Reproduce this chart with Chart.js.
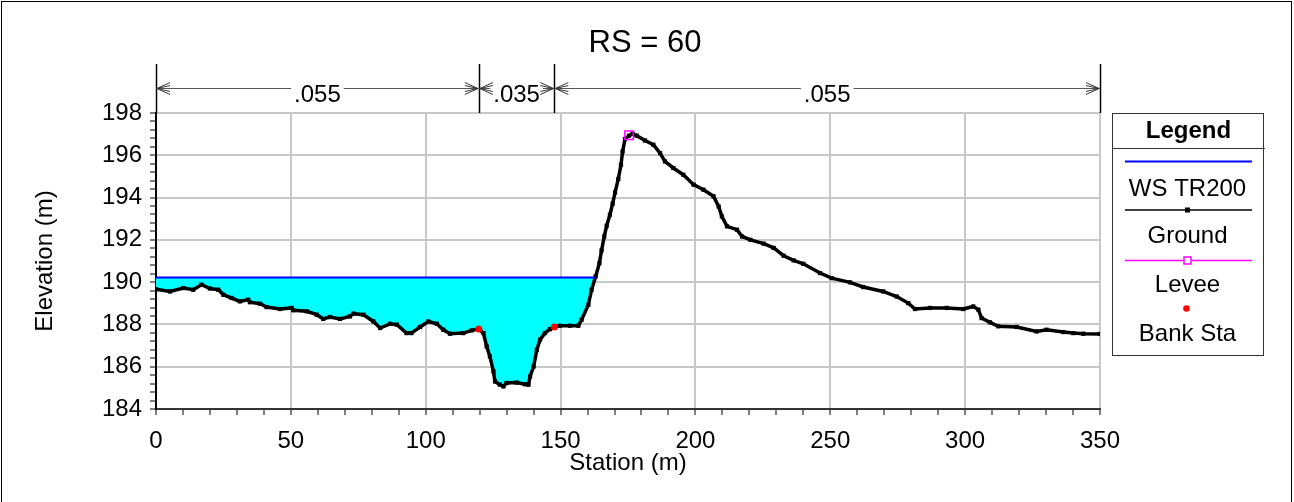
<!DOCTYPE html>
<html>
<head>
<meta charset="utf-8">
<title>RS = 60</title>
<style>
  html, body { margin: 0; padding: 0; background: #fff; }
  #wrap { position: relative; width: 1294px; height: 502px; }
</style>
<script src="https://cdn.jsdelivr.net/npm/chart.js@4.4.1/dist/chart.umd.min.js"></script>
</head>
<body>
<div id="wrap"><canvas id="xsChart" width="1294" height="502"></canvas></div>
<script>
// cross section RS = 60 (station / elevation in m)
const plotTitle = "RS = 60";

const groundStation = [
  0, 5.2, 10.1, 13.8, 16.9, 20, 23.1, 25, 28, 31.1, 34.2, 34.8, 38.6, 41, 46, 50.3, 50.9,
  55.9, 59.6, 62, 64.5, 68.2, 71.9, 73.2, 76.9, 80.6, 83.1, 86.8, 89.3, 92.9, 94.7, 97.9,
  101, 104.1, 106.5, 109, 113.9, 117.1, 119.7, 121.4, 122.6, 123.8, 125.1, 125.7, 127.5,
  128.8, 130, 133.7, 136.8, 138.1, 138.7, 140, 141.2, 142.4, 144.2, 146.1, 147.7, 149.8,
  153.5, 156.6, 157.8, 160.3, 161.5, 163, 164.4, 165.2, 166.2, 167.1, 168.3, 169.3, 170.2,
  171.4, 172.4, 173, 173.9, 175.4, 176.7, 178.2, 181.3, 184.4, 186.9, 188.7, 191.8, 195.5,
  199.3, 203, 206.7, 208.6, 209.8, 211.7, 215.4, 217.3, 220.4, 225.3, 229, 232.7, 236.4,
  240, 246.2, 250.5, 257.3, 262.2, 269.6, 274.6, 278.9, 281.4, 287, 293.2, 299.3, 303,
  304.9, 306.1, 309.2, 312.3, 319.1, 326.5, 330.2, 336.4, 340.1, 343.8, 350
];
const groundElev = [
  189.67, 189.56, 189.72, 189.64, 189.88, 189.7, 189.64, 189.4, 189.25, 189.09, 189.17,
  189.05, 188.98, 188.82, 188.73, 188.78, 188.67, 188.62, 188.46, 188.26, 188.35, 188.26,
  188.38, 188.51, 188.46, 188.14, 187.83, 188.03, 187.99, 187.59, 187.59, 187.88, 188.14,
  188.03, 187.75, 187.56, 187.59, 187.72, 187.78, 187.59, 186.96, 186.49, 185.78, 185.3,
  185.15, 185.07, 185.23, 185.25, 185.17, 185.15, 185.54, 186.01, 186.8, 187.28, 187.59,
  187.78, 187.88, 187.94, 187.94, 187.94, 188.22, 188.93, 189.64, 190.27, 190.9, 191.5,
  192.16, 192.67, 193.19, 193.71, 194.24, 194.88, 195.55, 196.18, 196.77, 196.93, 197.02,
  196.93, 196.7, 196.5, 196.1, 195.71, 195.4, 195.08, 194.61, 194.37, 194.06, 193.58,
  193.11, 192.64, 192.48, 192.16, 192.0, 191.82, 191.62, 191.25, 191.03, 190.87, 190.43,
  190.19, 189.99, 189.77, 189.56, 189.32, 189.01, 188.73, 188.78, 188.78, 188.73, 188.85,
  188.7, 188.3, 188.1, 187.91, 187.88, 187.67, 187.75, 187.64, 187.59, 187.56, 187.55
];

const wsStation = [0, 162.8];
const wsElev = [190.22, 190.22];

const leveeStation = [175.4];
const leveeElev = [196.95];

const bankStation = [119.7, 147.7];
const bankElev = [187.78, 187.88];

// Manning's n breaks along the top
const nBreaks = [0, 119.7, 147.7, 350];
const nValues = [".055", ".035", ".055"];

const legendLabels = ["WS TR200", "Ground", "Levee", "Bank Sta"];

const FONT = '"Liberation Sans", Arial, Helvetica, sans-serif';
const GRID = "#c8c8c8";

Chart.defaults.font.family = FONT;
Chart.defaults.font.size = 24;
Chart.defaults.color = "#000";

const toPoints = (xs, ys) => xs.map((x, i) => ({ x, y: ys[i] }));
const isMajor = (v, step) => Math.abs(v / step - Math.round(v / step)) < 1e-6;

const groundPts = toPoints(groundStation, groundElev);
const waterPts = groundPts.filter((p) => p.x <= 163);

function arrowHead(ctx, x, y, dir) {
  // dir = 1 points right, -1 points left; tip at x
  ctx.beginPath();
  ctx.moveTo(x - dir * 13, y - 6);
  ctx.lineTo(x, y);
  ctx.lineTo(x - dir * 13, y + 6);
  ctx.moveTo(x - dir * 13, y - 3);
  ctx.lineTo(x, y);
  ctx.lineTo(x - dir * 13, y + 3);
  ctx.stroke();
}

const decorPlugin = {
  id: "xsDecor",
  afterDraw(chart) {
    const { ctx } = chart;
    const xs = chart.scales.x;
    ctx.save();

    // page frame
    ctx.strokeStyle = "#000";
    ctx.lineWidth = 1;
    ctx.strokeRect(1.5, 1.5, 1290, 560);

    // title
    ctx.fillStyle = "#000";
    ctx.font = `31px ${FONT}`;
    ctx.textAlign = "center";
    ctx.textBaseline = "alphabetic";
    ctx.fillText(plotTitle, 645, 52);

    // manning's n bars
    const top = chart.chartArea.top;
    ctx.strokeStyle = "#000";
    ctx.lineWidth = 1.5;
    nBreaks.forEach((s) => {
      const px = Math.round(xs.getPixelForValue(s)) + 0.5;
      ctx.beginPath();
      ctx.moveTo(px, 64);
      ctx.lineTo(px, top);
      ctx.stroke();
    });
    ctx.font = `24px ${FONT}`;
    const ay = 88.5;
    nValues.forEach((label, i) => {
      const l = xs.getPixelForValue(nBreaks[i]);
      const r = xs.getPixelForValue(nBreaks[i + 1]);
      const mid = (l + r) / 2;
      const w = ctx.measureText(label).width;
      ctx.strokeStyle = "#555";
      ctx.lineWidth = 1;
      ctx.beginPath();
      ctx.moveTo(l, ay);
      ctx.lineTo(Math.max(l, mid - w / 2 - 3), ay);
      ctx.moveTo(Math.min(r, mid + w / 2 + 3), ay);
      ctx.lineTo(r, ay);
      ctx.stroke();
      ctx.strokeStyle = "#333";
      arrowHead(ctx, l + 1, ay, -1);
      arrowHead(ctx, r - 1, ay, 1);
      ctx.fillStyle = "#000";
      ctx.fillText(label, mid, 102);
    });

    // legend box
    const bx = 1112, by = 113, bw = 151, bh = 242;
    const cx = bx + bw / 2;
    ctx.strokeStyle = "#333";
    ctx.lineWidth = 1;
    ctx.strokeRect(bx + 0.5, by + 0.5, bw, bh);
    ctx.beginPath();
    ctx.moveTo(bx, 148.5);
    ctx.lineTo(bx + bw + 2, 148.5);
    ctx.stroke();
    ctx.fillStyle = "#000";
    ctx.font = `bold 24px ${FONT}`;
    ctx.fillText("Legend", cx + 1, 138);
    ctx.font = `24px ${FONT}`;

    const x0 = 1125, x1 = 1252;
    // WS
    ctx.strokeStyle = "#0000ff";
    ctx.lineWidth = 2;
    ctx.beginPath(); ctx.moveTo(x0, 161.5); ctx.lineTo(x1, 161.5); ctx.stroke();
    ctx.fillText(legendLabels[0], cx, 196);
    // Ground
    ctx.strokeStyle = "#000";
    ctx.lineWidth = 1.5;
    ctx.beginPath(); ctx.moveTo(x0, 210); ctx.lineTo(x1, 210); ctx.stroke();
    ctx.fillRect(cx - 2.5, 207.5, 5, 5);
    ctx.fillText(legendLabels[1], cx, 243);
    // Levee
    ctx.strokeStyle = "#ff00ff";
    ctx.lineWidth = 1.5;
    ctx.beginPath(); ctx.moveTo(x0, 260.5); ctx.lineTo(x1, 260.5); ctx.stroke();
    ctx.fillStyle = "#fff";
    ctx.fillRect(cx - 4, 256.5, 8, 8);
    ctx.lineWidth = 1.5;
    ctx.strokeRect(cx - 3.5, 257, 7, 7);
    ctx.fillStyle = "#000";
    ctx.fillText(legendLabels[2], cx, 292);
    // Bank Sta
    ctx.fillStyle = "#ff0000";
    ctx.beginPath(); ctx.arc(cx - 1, 308.5, 3.3, 0, Math.PI * 2); ctx.fill();
    ctx.fillStyle = "#000";
    ctx.fillText(legendLabels[3], cx, 341);

    ctx.restore();
  }
};

function gridColor(step) {
  return (c) => (c.tick && isMajor(c.tick.value, step) ? GRID : "rgba(0,0,0,0)");
}

new Chart(document.getElementById("xsChart"), {
  type: "scatter",
  data: {
    datasets: [
      {
        label: legendLabels[3],
        data: toPoints(bankStation, bankElev),
        order: 1,
        pointStyle: "circle",
        pointRadius: 3.5,
        pointBackgroundColor: "#ff0000",
        pointBorderWidth: 0,
        showLine: false
      },
      {
        label: legendLabels[2],
        data: toPoints(leveeStation, leveeElev),
        order: 2,
        pointStyle: "rect",
        pointRadius: 6,
        pointBackgroundColor: "rgba(0,0,0,0)",
        pointBorderColor: "#ff00ff",
        pointBorderWidth: 1.5,
        showLine: false
      },
      {
        label: legendLabels[0],
        data: toPoints(wsStation, wsElev),
        order: 3,
        showLine: true,
        borderColor: "#0000ff",
        borderWidth: 2,
        pointRadius: 0
      },
      {
        label: legendLabels[1],
        data: groundPts,
        order: 4,
        showLine: true,
        borderColor: "#000",
        borderWidth: 3.5,
        pointStyle: "rect",
        pointRadius: 3,
        pointBackgroundColor: "#000",
        pointBorderWidth: 0
      },
      {
        label: "water",
        data: waterPts,
        order: 5,
        showLine: true,
        borderColor: "rgba(0,0,0,0)",
        borderWidth: 0,
        pointRadius: 0,
        backgroundColor: "#00ffff",
        fill: { value: wsElev[0] }
      }
    ]
  },
  options: {
    responsive: false,
    animation: false,
    events: [],
    layout: { padding: { top: 113, right: 194, bottom: 0, left: 0 } },
    plugins: {
      legend: { display: false },
      tooltip: { enabled: false }
    },
    scales: {
      x: {
        type: "linear",
        min: 0,
        max: 350,
        afterFit: (s) => { s.height = 93; },
        ticks: {
          stepSize: 10,
          autoSkip: false,
          maxRotation: 0,
          padding: 12,
          color: "#000",
          callback: (v) => (isMajor(v, 50) ? String(Math.round(v)) : "")
        },
        grid: {
          color: gridColor(50),
          lineWidth: 2,
          tickColor: "#000",
          tickWidth: 1,
          tickLength: 6
        },
        border: { color: "#333", width: 2 },
        title: { display: true, text: "Station (m)", color: "#000", padding: { top: 0, bottom: 24 } }
      },
      y: {
        type: "linear",
        min: 184,
        max: 198,
        afterFit: (s) => { s.width = 156; },
        ticks: {
          stepSize: 0.4,
          autoSkip: false,
          padding: 8,
          color: "#000",
          callback: (v) => (isMajor(v, 2) ? String(Math.round(v)) : "")
        },
        grid: {
          color: gridColor(2),
          lineWidth: 2,
          tickColor: "#000",
          tickWidth: 1,
          tickLength: 6
        },
        border: { color: "#000", width: 2 },
        title: { display: true, text: "Elevation (m)", color: "#000", padding: { top: 31, bottom: 0 } }
      }
    }
  },
  plugins: [decorPlugin]
});
</script>
</body>
</html>
